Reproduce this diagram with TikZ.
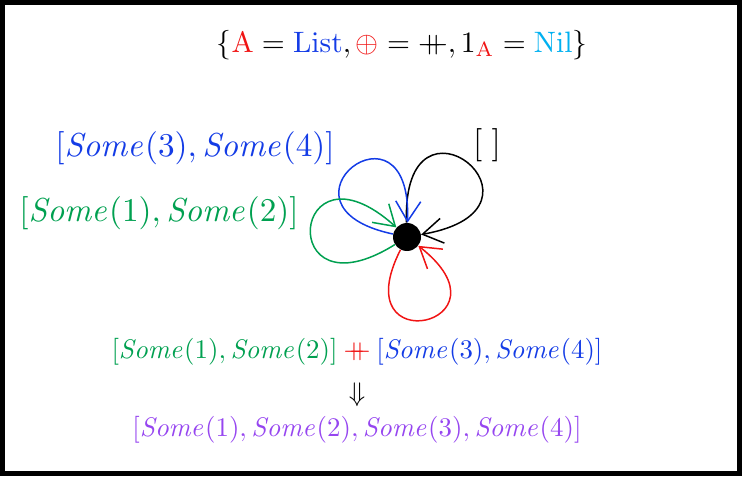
\documentclass[tikz,border=0pt]{standalone}
\usepackage{amsmath}
\usepackage{amssymb}
\usepackage{xcolor}
\usepackage{tikz}
\usetikzlibrary{arrows.meta, positioning}

\definecolor{listred}{RGB}{240,20,20}
\definecolor{listblue}{RGB}{20,60,230}
\definecolor{listgreen}{RGB}{0,160,80}
\definecolor{listcyan}{RGB}{0,176,240}
\definecolor{listpurple}{RGB}{150,70,240}

\newcommand{\concat}{+\mkern-10mu+}
\newcommand{\Some}[1]{\mathit{Some}(#1)}

\begin{document}
\begin{tikzpicture}[
    vertex/.style={circle, fill=black, minimum size=0.56cm, inner sep=0pt},
    lbl/.style={inner sep=0pt, scale=1.89, transform shape},
    small/.style={inner sep=0pt, scale=1.53, transform shape},
    selfloop/.style={draw, line width=0.85pt, -{Straight Barb[length=4mm, width=5mm]}}]

    \useasboundingbox (0,0) rectangle (14.84,9.52);
    \draw [line width=0.1cm] (0.05,0.05) rectangle (14.79,9.47);

    \node [inner sep=0pt, scale=1.68, transform shape] (monoid) at (8.04,8.62) {$\{\textcolor{listred}{\mathrm{A}} = \textcolor{listblue}{\mathrm{List}}, \mathbin{\textcolor{listred}{\oplus}} = \mathbin{\concat}, 1_{\textcolor{listred}{\mathrm{A}}} = \textcolor{listcyan}{\mathrm{Nil}}\}$};

    \node [vertex] (obj) at (8.14,4.78) {};

    \node [lbl, text=listblue] (l34) at (3.9,6.56) {$[\Some{3}, \Some{4}]$};
    \node [lbl] (empty) at (9.74,6.62) {$[\;]$};
    \node [lbl, text=listgreen] (l12) at (3.18,5.26) {$[\Some{1}, \Some{2}]$};

    \draw [selfloop] (obj) to[out=92, in=10, min distance=3.0cm] (obj);
    \draw [selfloop, listblue] (obj) to[out=168, in=88, min distance=2.7cm] (obj);
    \draw [selfloop, listgreen] (obj) to[out=212, in=138, min distance=2.85cm] (obj);
    \draw [selfloop, listred] (obj) to[out=243, in=322, min distance=2.55cm] (obj);

    \node [small] (sum) at (7.14,2.48) {$\textcolor{listgreen}{[\Some{1}, \Some{2}]} \mathbin{\textcolor{listred}{\concat}} \textcolor{listblue}{[\Some{3}, \Some{4}]}$};
    \node [small] (down) at (7.14,1.62) {$\Downarrow$};
    \node [small, text=listpurple] (result) at (7.14,0.92) {$[\Some{1}, \Some{2}, \Some{3}, \Some{4}]$};
\end{tikzpicture}
\end{document}
